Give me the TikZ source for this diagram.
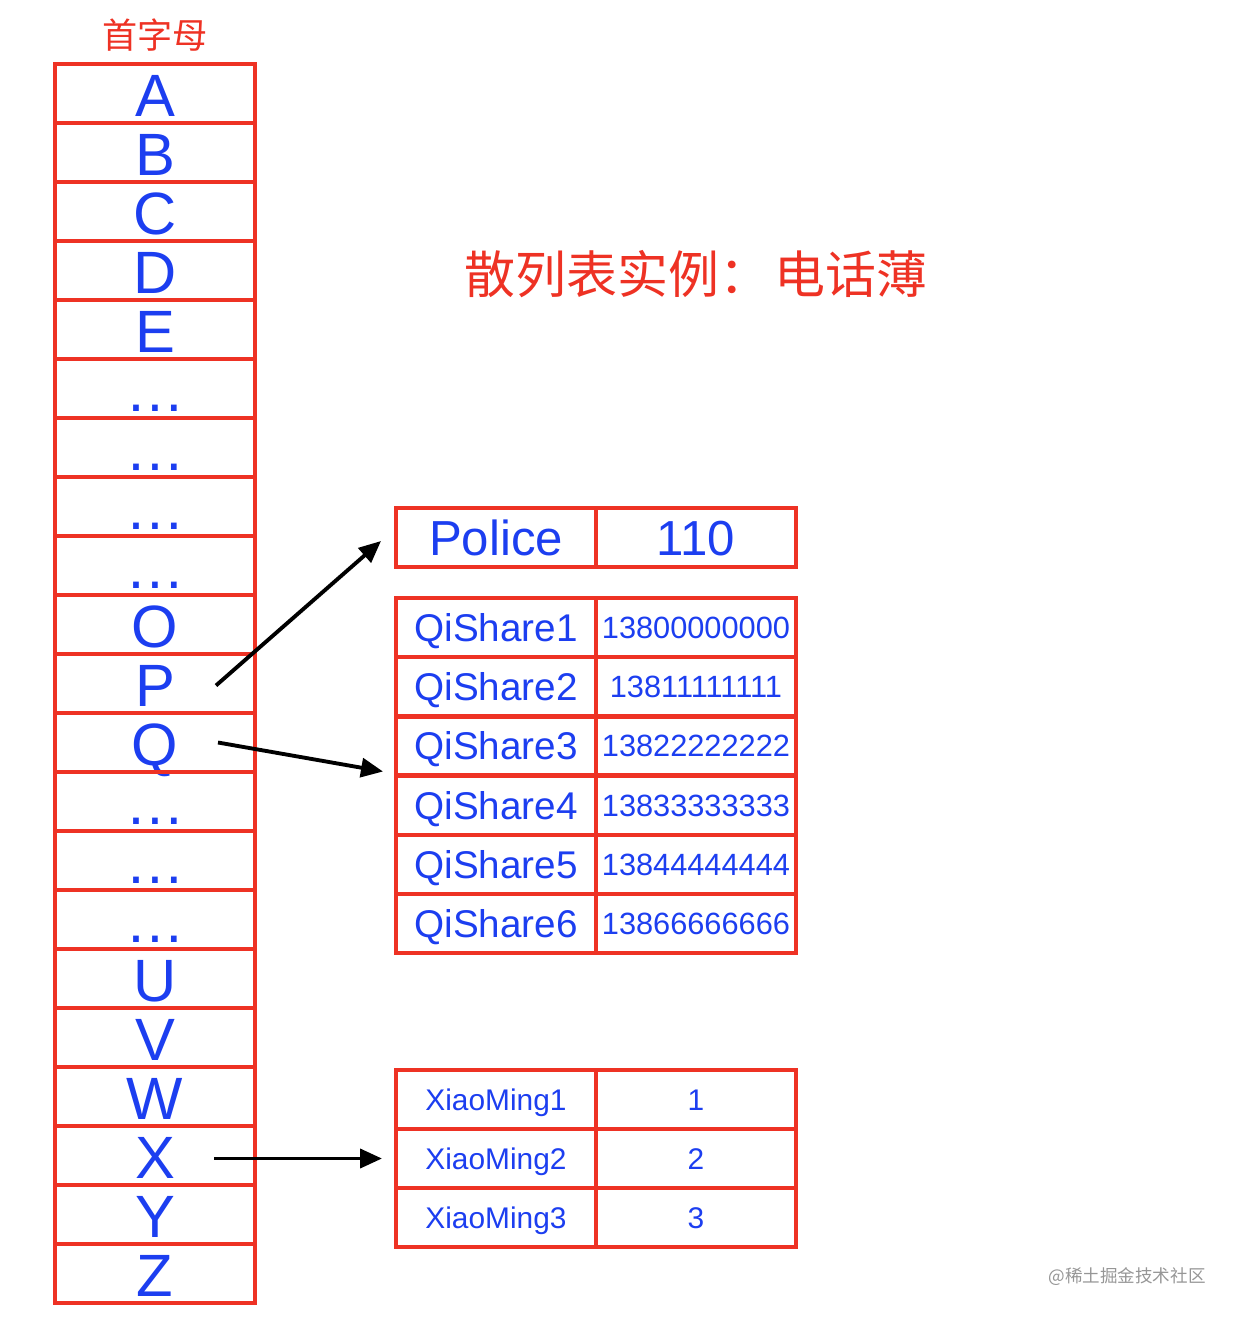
\documentclass[tikz,border=0pt]{standalone}
\usepackage{fontspec}
\setmainfont{Liberation Sans}
\newfontfamily\cjkfont{Noto Sans CJK SC}
\usetikzlibrary{arrows.meta, positioning, calc}
\definecolor{LineRed}{RGB}{238,50,36}
\definecolor{TextBlue}{RGB}{28,62,240}
\definecolor{MarkGray}{RGB}{150,150,150}

\begin{document}
\begin{tikzpicture}[
    x=0.02cm, y=-0.02cm,
    cell/.style={draw=LineRed, line width=2.3pt, outer sep=0pt, inner sep=0pt,
        text=TextBlue, minimum width=4cm, minimum height=1.18cm},
    letter/.style={cell, font=\fontsize{34}{34}\selectfont,
        text height=0.9cm, text depth=0pt},
    bigcell/.style={cell, font=\fontsize{28}{28}\selectfont,
        text height=20pt, text depth=0pt},
    namecell/.style={cell, font=\fontsize{22}{22}\selectfont,
        text height=15.8pt, text depth=0pt},
    numcell/.style={cell, font=\fontsize{17.5}{17.5}\selectfont,
        text height=12.5pt, text depth=0pt},
    smallcell/.style={cell, font=\fontsize{17}{17}\selectfont,
        text height=12.2pt, text depth=0pt},
    link/.style={-{Triangle[length=0.44cm, width=0.38cm]}, line width=2.2pt, black},
]
\useasboundingbox (0,0) rectangle (1240,1320);

%首字母
\node[text=LineRed, font=\cjkfont\fontsize{20}{20}\selectfont] (head) at (155,35) {首字母};
\foreach \ch [count=\i] in {A,B,C,D,E,…,…,…,…,O,P,Q,…,…,…,U,V,W,X,Y,Z}
    \node[letter] (row\i) at (155, 64+59*\i-29.5) {\ch};

\node[text=LineRed, font=\cjkfont\fontsize{29}{29}\selectfont] (title) at (696,274)
    {散列表实例：\hspace{2pt}电话薄};

% P
\node[bigcell] (pkey) at (496,537.5) {Police};
\node[bigcell, right=0pt of pkey] (pval) {110};

% Q
\foreach \nm/\num [count=\i] in {QiShare1/13800000000, QiShare2/13811111111,
        QiShare3/13822222222, QiShare4/13833333333,
        QiShare5/13844444444, QiShare6/13866666666} {
    \node[namecell] (qs\i) at (496, 598+59.2*\i-29.6) {\nm};
    \node[numcell, right=0pt of qs\i] (qv\i) {\num};
}

% X
\foreach \nm/\num [count=\i] in {XiaoMing1/1, XiaoMing2/2, XiaoMing3/3} {
    \node[smallcell] (xm\i) at (496, 1070+59*\i-29.5) {\nm};
    \node[smallcell, right=0pt of xm\i] (xv\i) {\num};
}

\draw[link] ($(row11.center)+(61,2)$) -- ($(pkey.west)+(-15,3.5)$);
\draw[link] ($(row12.center)+(63,0)$) -- ($(qs3.south west)+(-13,-4)$);
\draw[link] ($(row19.center)+(59,3)$) -- ($(xm2.west)+(-14,0)$);

\node[text=MarkGray, font=\cjkfont\fontsize{10}{10}\selectfont] (mark) at (1127,1277)
    {@稀土掘金技术社区};
\end{tikzpicture}
\end{document}
